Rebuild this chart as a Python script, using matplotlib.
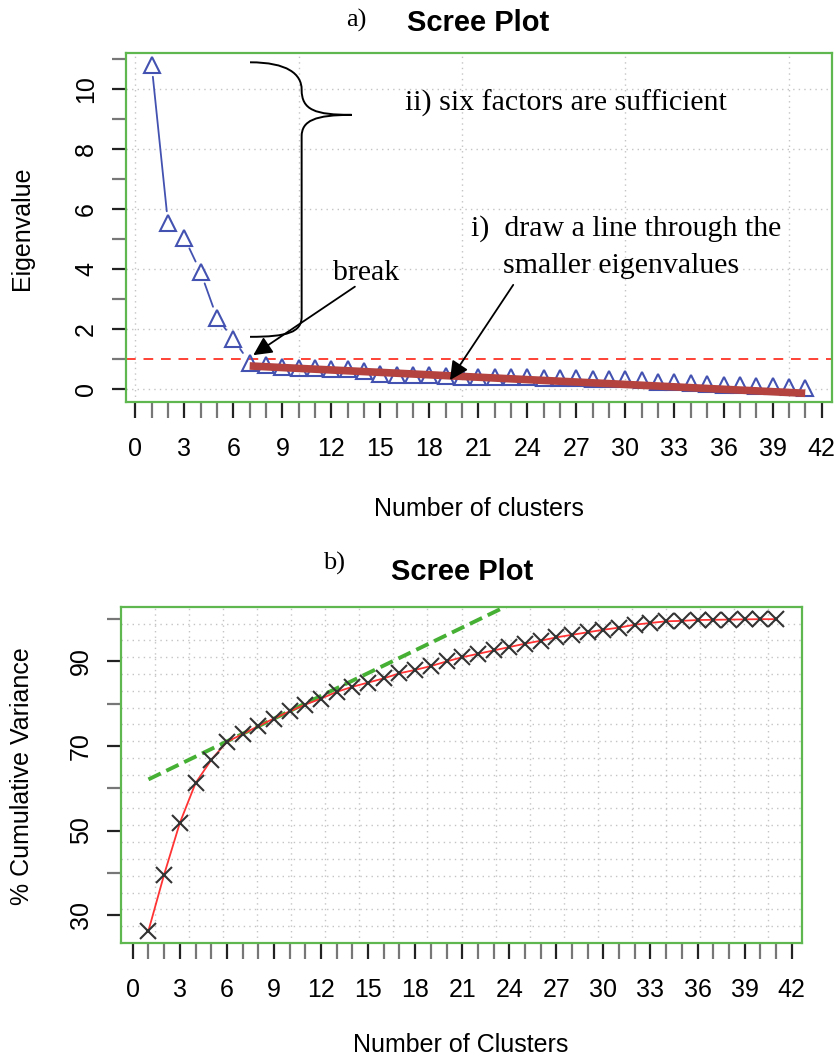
import matplotlib.pyplot as plt
import numpy as np
from matplotlib.path import Path
from matplotlib.patches import PathPatch, FancyArrowPatch

W, H = 836, 1061

# data
clusters = list(range(1, 42))
eigen = [10.8, 5.54, 5.05, 3.9, 2.38, 1.67, 0.89, 0.81, 0.74, 0.72,
         0.70, 0.69, 0.67, 0.61, 0.50, 0.48, 0.47, 0.47, 0.44, 0.42,
         0.42, 0.41, 0.40, 0.40, 0.39, 0.37, 0.37, 0.33, 0.33, 0.33,
         0.30, 0.25, 0.25, 0.20, 0.17, 0.14, 0.14, 0.11, 0.11, 0.08, 0.05]
cumvar = [26.3, 39.6, 51.8, 61.2, 66.7, 71.0, 72.8, 74.7, 76.5, 78.2,
          79.8, 81.2, 82.8, 84.0, 85.0, 86.0, 87.2, 88.0, 88.9, 90.0,
          91.0, 91.8, 92.6, 93.4, 94.2, 94.9, 95.7, 96.3, 96.9, 97.5,
          98.0, 98.7, 99.1, 99.5, 99.6, 99.8, 99.85, 99.9, 99.95, 100.0, 100.0]
kaiser = 1.0
eig_fit_x = [7, 41]
eig_fit_y = [0.78, -0.13]
cum_fit_x = [1, 24]
cum_fit_y = [62.1, 103.4]

SANS = 'Liberation Sans'
SERIF = 'Liberation Serif'
GREEN = '#5fb84f'
BLUE = '#4352b0'


def fx(x):
    return x / W


def fy(y):
    return 1 - y / H


def style_axes(ax):
    for s in ax.spines.values():
        s.set_color(GREEN)
        s.set_linewidth(1.6)
    ax.xaxis.set_tick_params(which='both', direction='out', length=11.5, width=1.6,
                             labelsize=18, pad=14)
    ax.yaxis.set_tick_params(which='both', direction='out', length=10, width=1.6,
                             labelsize=18, pad=10)
    ax.tick_params(which='major', color='#222222')
    ax.tick_params(which='minor', color='#777777')
    for lab in ax.get_xticklabels() + ax.get_yticklabels():
        lab.set_fontfamily(SANS)
    for lab in ax.get_yticklabels():
        lab.set_rotation(90)
        lab.set_va('center')


fig = plt.figure(figsize=(W / 100, H / 100), dpi=100)

# ---------------- a) eigenvalues ----------------
ax1 = fig.add_axes([fx(126), fy(402), fx(832 - 126), (402 - 53) / H])
ax1.set_xlim(-0.57, 42.64)
ax1.set_ylim(-0.42, 11.2)

for gx in range(0, 41, 10):
    ax1.axvline(gx, color='#c4c4c4', lw=1, ls=(0, (1, 3)), zorder=0)
for gy in range(0, 11, 2):
    ax1.axhline(gy, color='#c4c4c4', lw=1, ls=(0, (1, 3)), zorder=0)

ax1.axhline(kaiser, color='#ff4136', lw=1.4, ls=(0, (5, 4)), zorder=1)

# R type="b": segments with gaps around the points
fig.canvas.draw()
for i in range(len(clusters) - 1):
    a = (clusters[i], eigen[i])
    b = (clusters[i + 1], eigen[i + 1])
    pa = ax1.transData.transform(a)
    pb = ax1.transData.transform(b)
    if np.hypot(*(pb - pa)) > 26:
        ax1.add_patch(FancyArrowPatch(a, b, arrowstyle='-', shrinkA=8.5, shrinkB=8.5,
                                      color=BLUE, lw=1.3, zorder=2))
ax1.plot(clusters, eigen, ls='none', marker='^', ms=11, mfc='none',
         mec=BLUE, mew=1.5, zorder=3)
ax1.plot(eig_fit_x, eig_fit_y, color='#b4423f', lw=5.5, solid_capstyle='butt', zorder=4)

ax1.set_xticks(range(0, 43, 3))
ax1.set_xticks(range(0, 43), minor=True)
ax1.set_yticks(range(0, 11, 2))
ax1.set_yticks(range(1, 12, 2), minor=True)
style_axes(ax1)

# curly brace
brace = Path([(7.02, 10.89), (9.3, 10.89), (10.18, 10.5), (10.18, 9.98),
              (10.18, 9.3), (11.0, 9.14), (13.24, 9.14),
              (11.0, 9.14), (10.18, 8.95), (10.18, 8.42),
              (10.18, 2.42),
              (10.18, 1.9), (9.3, 1.75), (7.02, 1.75)],
             [Path.MOVETO, Path.CURVE4, Path.CURVE4, Path.CURVE4,
              Path.CURVE4, Path.CURVE4, Path.CURVE4,
              Path.CURVE4, Path.CURVE4, Path.CURVE4,
              Path.LINETO,
              Path.CURVE4, Path.CURVE4, Path.CURVE4])
ax1.add_patch(PathPatch(brace, fc='none', ec='black', lw=1.4, zorder=5))

ax1.text(16.5, 9.51, 'ii) six factors are sufficient', family=SERIF, fontsize=21.5,
         va='center', ha='left')
ax1.text(20.55, 5.34, 'i)  draw a line through the', family=SERIF, fontsize=21.5,
         va='center', ha='left')
ax1.text(22.5, 4.11, 'smaller eigenvalues', family=SERIF, fontsize=21.5,
         va='center', ha='left')
ax1.text(14.12, 3.88, 'break', family=SERIF, fontsize=21.5, va='center', ha='center')
ax1.annotate('', xy=(7.22, 1.14), xytext=(13.44, 3.42),
             arrowprops=dict(arrowstyle='-|>', color='black', lw=1.3,
                             mutation_scale=28, shrinkA=0, shrinkB=0), zorder=6)
ax1.annotate('', xy=(19.26, 0.31), xytext=(23.13, 3.48),
             arrowprops=dict(arrowstyle='-|>', color='black', lw=1.3,
                             mutation_scale=28, shrinkA=0, shrinkB=0), zorder=6)

fig.text(fx(356), fy(20), 'a)', family=SERIF, fontsize=19, ha='center', va='center')
fig.text(fx(478), fy(23), 'Scree Plot', family=SANS, fontsize=21, weight='bold',
         ha='center', va='center')
fig.text(fx(22), fy(228), 'Eigenvalue', family=SANS, fontsize=18, rotation=90,
         ha='center', va='center')
fig.text(fx(479), fy(509), 'Number of clusters', family=SANS, fontsize=18,
         ha='center', va='center')

# ---------------- b) cumulative variance ----------------
ax2 = fig.add_axes([fx(121), fy(943), fx(802 - 121), (943 - 606.7) / H])
xlo, xhi = -0.75, 42.66
ylo, yhi = 23.4, 102.95
ax2.set_xlim(xlo, xhi)
ax2.set_ylim(ylo, yhi)

for gx in np.linspace(xlo, xhi, 21)[1:-1]:
    ax2.axvline(gx, color='#c4c4c4', lw=1, ls=(0, (1, 3)), zorder=0)
for gy in np.linspace(ylo, yhi, 21)[1:-1]:
    ax2.axhline(gy, color='#c4c4c4', lw=1, ls=(0, (1, 3)), zorder=0)

ax2.plot(cum_fit_x, cum_fit_y, color='#46b034', lw=2.8, ls=(0, (3.5, 1.6)), zorder=2)
ax2.plot(clusters, cumvar, color='#ff3333', lw=1.3, zorder=3)
ax2.plot(clusters, cumvar, ls='none', marker='x', ms=11, mew=1.5,
         color='#333333', zorder=4)

ax2.set_xticks(range(0, 43, 3))
ax2.set_xticks(range(0, 43), minor=True)
ax2.set_yticks(range(30, 91, 20))
ax2.set_yticks(range(40, 101, 20), minor=True)
style_axes(ax2)

fig.text(fx(334), fy(563), 'b)', family=SERIF, fontsize=19, ha='center', va='center')
fig.text(fx(462), fy(572), 'Scree Plot', family=SANS, fontsize=21, weight='bold',
         ha='center', va='center')
fig.text(fx(22), fy(776), '% Cumulative Variance', family=SANS, fontsize=18,
         rotation=90, ha='center', va='center')
fig.text(fx(461), fy(1045), 'Number of Clusters', family=SANS, fontsize=18,
         ha='center', va='center')

fig.savefig('out.png', dpi=100)
